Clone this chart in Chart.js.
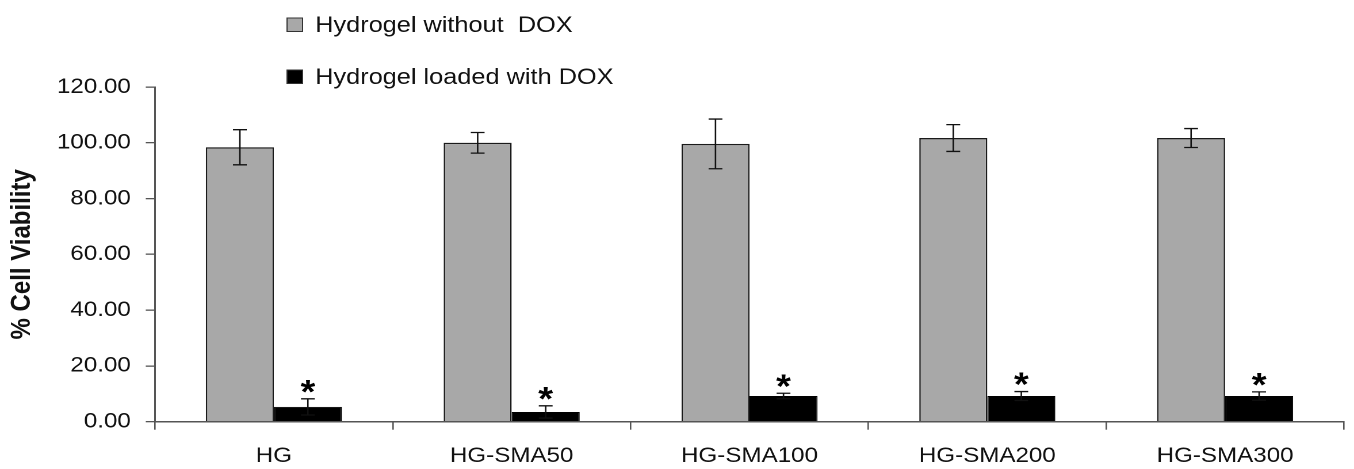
<!DOCTYPE html>
<html>
<head>
<meta charset="utf-8">
<script src="https://cdn.jsdelivr.net/npm/chart.js@4.4.0/dist/chart.umd.min.js"></script>
<style>
html, body { margin: 0; padding: 0; background: #fff; overflow: hidden; }
#wrap { width: 1177px; height: 469px; transform: scaleX(1.1504); transform-origin: 0 0; }
</style>
</head>
<body>
<div id="wrap"><canvas id="myChart"></canvas></div>
<script>
var categories    = ["HG", "HG-SMA50", "HG-SMA100", "HG-SMA200", "HG-SMA300"];
var seriesNames   = ["Hydrogel without  DOX", "Hydrogel loaded with DOX"];
var withoutDox    = [98.4, 100.0, 99.6, 101.7, 101.7];
var withoutDoxErr = [6.3, 3.7, 8.9, 4.8, 3.4];
var loadedDox     = [5.3, 3.5, 9.2, 9.2, 9.2];
var loadedDoxErr  = [2.9, 2.2, 1.0, 1.6, 1.5];
var significant   = [true, true, true, true, true];
var yTicks        = [0, 20, 40, 60, 80, 100, 120];

var FONT = "Arial, 'Liberation Sans', sans-serif";
Chart.defaults.font.family = FONT;
Chart.defaults.color = '#222';

// error bars + asterisks drawn on top of the bars
var errorBars = {
	id: 'errorBars',
	afterDatasetsDraw: function(chart) {
		var ctx = chart.ctx;
		var y = chart.scales.y;
		ctx.save();
		ctx.strokeStyle = '#111';
		ctx.lineWidth = 1.3;
		chart.data.datasets.forEach(function(ds, i) {
			var meta = chart.getDatasetMeta(i);
			meta.data.forEach(function(bar, j) {
				var v = ds.data[j], e = ds.errors[j];
				var top = y.getPixelForValue(v + e);
				var bot = y.getPixelForValue(v - e);
				ctx.beginPath();
				ctx.moveTo(bar.x, top); ctx.lineTo(bar.x, bot);
				ctx.moveTo(bar.x - 6, top); ctx.lineTo(bar.x + 6, top);
				ctx.moveTo(bar.x - 6, bot); ctx.lineTo(bar.x + 6, bot);
				ctx.stroke();
				if (ds.stars && ds.stars[j]) {
					ctx.fillStyle = '#000';
					ctx.font = 'bold 33px ' + FONT;
					ctx.textAlign = 'center';
					ctx.textBaseline = 'alphabetic';
					ctx.fillText('*', bar.x, top + 4);
				}
			});
		});
		ctx.restore();
	}
};

// stacked legend above the plot
var sideLegend = {
	id: 'sideLegend',
	afterDraw: function(chart) {
		var ctx = chart.ctx;
		ctx.save();
		ctx.font = '22px ' + FONT;
		ctx.textBaseline = 'middle';
		ctx.textAlign = 'left';
		chart.data.datasets.forEach(function(ds, i) {
			var cy = 25 + i * 52;
			ctx.fillStyle = ds.backgroundColor;
			ctx.fillRect(249.5, cy - 7, 13.5, 13.5);
			ctx.strokeStyle = '#333';
			ctx.lineWidth = 1;
			ctx.strokeRect(249.5, cy - 7, 13.5, 13.5);
			ctx.fillStyle = '#111';
			ctx.fillText(ds.label, 274, cy + 1);
		});
		ctx.restore();
	}
};

var ctx = document.getElementById("myChart");
var myBarChart = new Chart(ctx, {
	type: 'bar',
	data: {
		labels: categories,
		datasets: [
			{
				label: seriesNames[0],
				data: withoutDox,
				errors: withoutDoxErr,
				backgroundColor: '#a8a8a8',
				borderColor: '#1a1a1a',
				borderWidth: 1.3,
				categoryPercentage: 0.572,
				barPercentage: 1.0
			},
			{
				label: seriesNames[1],
				data: loadedDox,
				errors: loadedDoxErr,
				stars: significant,
				backgroundColor: '#000',
				borderColor: '#000',
				borderWidth: 1,
				categoryPercentage: 0.572,
				barPercentage: 1.0
			}
		]
	},
	options: {
		responsive: true,
		maintainAspectRatio: false,
		animation: false,
		devicePixelRatio: 2,
		layout: { padding: { top: 87, right: 8.7, bottom: 0, left: 0 } },
		plugins: {
			legend: { display: false },
			tooltip: { enabled: false }
		},
		scales: {
			x: {
				grid: { offset: true, drawOnChartArea: false, tickLength: 8, color: '#555', lineWidth: 1.3 },
				border: { display: true, color: '#555', width: 1.5 },
				ticks: { font: { size: 21 }, color: '#111', padding: 14, maxRotation: 0 },
				afterFit: function(scale) { scale.height = 47.3; }
			},
			y: {
				min: 0,
				max: 120,
				afterBuildTicks: function(scale) {
					scale.ticks = yTicks.map(function(v) { return { value: v }; });
				},
				grid: { drawOnChartArea: false, tickLength: 8, color: '#555', lineWidth: 1.3 },
				border: { display: true, color: '#555', width: 1.5 },
				ticks: {
					font: { size: 21 },
					color: '#111',
					padding: 13,
					callback: function(v) { return Number(v).toFixed(2); }
				},
				title: {
					display: true,
					text: '% Cell Viability',
					font: { size: 24, weight: 'bold' },
					color: '#111',
					padding: { top: 5, bottom: 0 }
				},
				afterFit: function(scale) { scale.width = 134.7; }
			}
		}
	},
	plugins: [errorBars, sideLegend]
});
</script>
</body>
</html>
